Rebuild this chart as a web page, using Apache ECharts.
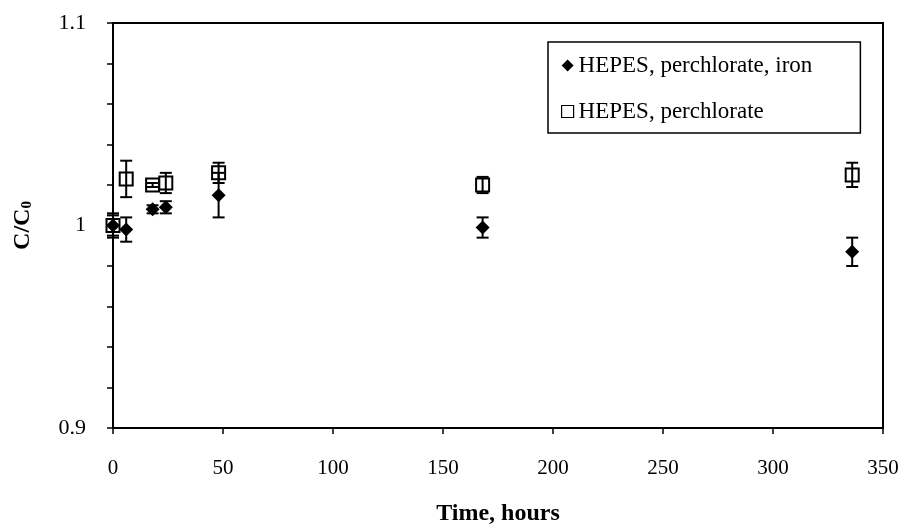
<!DOCTYPE html>
<html>
<head>
<meta charset="utf-8">
<script src="https://cdn.jsdelivr.net/npm/echarts@6/dist/echarts.min.js"></script>
<style>
html,body{margin:0;padding:0;background:#fff;}
#chart{width:902px;height:531px;}
</style>
</head>
<body>
<div id="chart"></div>
<script>
// Data
const seriesNames = ['HEPES, perchlorate, iron', 'HEPES, perchlorate'];
const hoursIron = [0, 6, 18, 24, 48, 168, 336];
const ironValues = [1.000, 0.998, 1.008, 1.009, 1.015, 0.999, 0.987];
const ironErrors = [0.006, 0.006, 0.002, 0.003, 0.011, 0.005, 0.007];
const hoursPerc = [0, 6, 18, 24, 48, 168, 336];
const percValues = [1.000, 1.023, 1.020, 1.021, 1.026, 1.020, 1.025];
const percErrors = [0.005, 0.009, 0.001, 0.005, 0.005, 0.004, 0.006];
const xTicks = [0, 50, 100, 150, 200, 250, 300, 350];
const yLabelTicks = ['0.9', '1', '1.1'];

const FONT = '"Liberation Serif", "Times New Roman", serif';

function pts(xs, ys) { return xs.map((x, i) => [x, ys[i]]); }
function errs(xs, ys, es) { return xs.map((x, i) => [x, ys[i] - es[i], ys[i] + es[i]]); }

function errorRender(params, api) {
  const x = api.value(0);
  const lo = api.coord([x, api.value(1)]);
  const hi = api.coord([x, api.value(2)]);
  const w = 6;
  const style = { stroke: '#000', lineWidth: 2 };
  return {
    type: 'group',
    children: [
      { type: 'line', shape: { x1: lo[0], y1: lo[1], x2: hi[0], y2: hi[1] }, style: style },
      { type: 'line', shape: { x1: lo[0] - w, y1: lo[1], x2: lo[0] + w, y2: lo[1] }, style: style },
      { type: 'line', shape: { x1: hi[0] - w, y1: hi[1], x2: hi[0] + w, y2: hi[1] }, style: style }
    ]
  };
}

const chart = echarts.init(document.getElementById('chart'), null, { renderer: 'canvas' });
chart.setOption({
  animation: false,
  backgroundColor: '#fff',
  grid: { left: 113, right: 19, top: 23, bottom: 102, show: true, borderColor: '#000', borderWidth: 2 },
  legend: {
    orient: 'vertical',
    left: 548,
    top: 42,
    data: [
      { name: seriesNames[0], icon: 'diamond', itemStyle: { color: '#000', borderWidth: 0 } },
      { name: seriesNames[1], icon: 'rect', itemStyle: { color: '#fff', borderColor: '#000', borderWidth: 1.2 } }
    ],
    itemWidth: 12,
    itemHeight: 12,
    itemGap: 23,
    padding: [12, 48, 10, 13],
    borderColor: '#000',
    borderWidth: 1.5,
    backgroundColor: '#fff',
    textStyle: { fontFamily: FONT, fontSize: 23, color: '#000' }
  },
  xAxis: {
    type: 'value',
    min: 0,
    max: 350,
    interval: 50,
    name: 'Time, hours',
    nameLocation: 'middle',
    nameGap: 74,
    nameTextStyle: { fontFamily: FONT, fontSize: 24, fontWeight: 'bold', color: '#000' },
    axisLine: { show: true, onZero: false, lineStyle: { color: '#000', width: 2 } },
    axisTick: { show: true, inside: false, length: 6, lineStyle: { color: '#000', width: 1.5 } },
    axisLabel: { margin: 30, fontFamily: FONT, fontSize: 21, color: '#000',
      formatter: v => (xTicks.indexOf(v) >= 0 ? String(v) : '') },
    splitLine: { show: false }
  },
  yAxis: {
    type: 'value',
    min: 0.9,
    max: 1.1,
    interval: 0.02,
    name: '{a|C/C}{b|0}',
    nameLocation: 'middle',
    nameGap: 78,
    nameTextStyle: {
      rich: {
        a: { fontFamily: FONT, fontSize: 24, fontWeight: 'bold', color: '#000' },
        b: { fontFamily: FONT, fontSize: 15, fontWeight: 'bold', color: '#000', padding: [9, 0, 0, 0] }
      }
    },
    axisLine: { show: true, onZero: false, lineStyle: { color: '#000', width: 2 } },
    axisTick: { show: true, inside: false, length: 6, lineStyle: { color: '#000', width: 1.5 } },
    axisLabel: { margin: 27, fontFamily: FONT, fontSize: 22, color: '#000',
      formatter: v => {
        const k = Math.round(v * 50);
        if (k === 45) return yLabelTicks[0];
        if (k === 50) return yLabelTicks[1];
        if (k === 55) return yLabelTicks[2];
        return '';
      } },
    splitLine: { show: false }
  },
  series: [
    {
      name: seriesNames[1],
      type: 'scatter',
      symbol: 'rect',
      symbolSize: 13,
      itemStyle: { color: '#fff', borderColor: '#000', borderWidth: 2, opacity: 1 },
      data: pts(hoursPerc, percValues),
      z: 2
    },
    {
      name: seriesNames[0],
      type: 'scatter',
      symbol: 'diamond',
      symbolSize: 14,
      itemStyle: { color: '#000', opacity: 1 },
      data: pts(hoursIron, ironValues),
      z: 3
    },
    {
      name: 'errPerc',
      type: 'custom',
      renderItem: errorRender,
      data: errs(hoursPerc, percValues, percErrors),
      encode: { x: 0, y: [1, 2] },
      z: 4
    },
    {
      name: 'errIron',
      type: 'custom',
      renderItem: errorRender,
      data: errs(hoursIron, ironValues, ironErrors),
      encode: { x: 0, y: [1, 2] },
      z: 4
    }
  ]
});
</script>
</body>
</html>
